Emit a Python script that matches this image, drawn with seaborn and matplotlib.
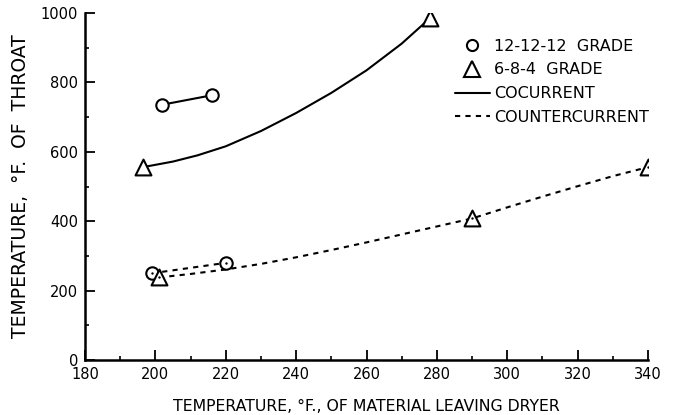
import seaborn as sns
import matplotlib.pyplot as plt
from matplotlib.lines import Line2D
from matplotlib.ticker import MultipleLocator
import pandas as pd

# values
co_circle_x = [202, 216]
co_circle_y = [736, 763]
cc_circle_x = [199, 220]
cc_circle_y = [250, 280]
co_tri_x = [196.5, 278]
co_tri_y = [556, 985]
cc_tri_x = [201, 290, 340]
cc_tri_y = [238, 408, 556]

# hand-drawn curves, traced point by point
co_curve_x = [196.5, 205, 212, 220, 230, 240, 250, 260, 270, 278]
co_curve_y = [556, 572, 590, 616, 660, 712, 770, 835, 912, 985]
cc_curve_x = [201, 210, 220, 230, 240, 250, 260, 270, 280, 290, 300, 310, 320, 330, 340]
cc_curve_y = [238, 248, 261, 277, 296, 317, 339, 362, 385, 408, 440, 471, 501, 530, 556]

x_ticks = [180, 200, 220, 240, 260, 280, 300, 320, 340]
y_ticks = [0, 200, 400, 600, 800, 1000]

sns.set_style("ticks")
plt.rcParams['font.family'] = ['DejaVu Sans']
plt.rcParams.update({"text.color": "black", "axes.labelcolor": "black",
                     "xtick.color": "black", "ytick.color": "black"})

fig = plt.figure(figsize=(6.8, 4.15), dpi=100)
ax = fig.add_axes([0.125, 0.1325, 0.828, 0.836])

dash = (0, (2.5, 2.5))
sns.lineplot(x=co_curve_x, y=co_curve_y, sort=False, color="black", lw=1.5, ax=ax)
sns.lineplot(x=co_circle_x, y=co_circle_y, sort=False, color="black", lw=1.5, ax=ax)
ax.plot(cc_curve_x, cc_curve_y, color="black", lw=1.5, ls=dash)
ax.plot(cc_circle_x, cc_circle_y, color="black", lw=1.5, ls=dash)

circles = pd.DataFrame({"x": co_circle_x + cc_circle_x, "y": co_circle_y + cc_circle_y})
tris = pd.DataFrame({"x": co_tri_x + cc_tri_x, "y": co_tri_y + cc_tri_y})
sns.scatterplot(data=circles, x="x", y="y", marker="o", s=80, facecolor="white",
                edgecolor="black", linewidth=1.5, ax=ax, zorder=3)
sns.scatterplot(data=tris, x="x", y="y", marker="^", s=130, facecolor="white",
                edgecolor="black", linewidth=1.5, ax=ax, zorder=3)
dots = pd.DataFrame({"x": cc_circle_x + cc_tri_x, "y": cc_circle_y + cc_tri_y})
sns.scatterplot(data=dots, x="x", y="y", marker="o", s=3, color="black",
                linewidth=0, ax=ax, zorder=4)

ax.set_xlim(180, 340)
ax.set_ylim(0, 1000)
ax.set_xticks(x_ticks)
ax.set_yticks(y_ticks)
ax.xaxis.set_minor_locator(MultipleLocator(10))
ax.yaxis.set_minor_locator(MultipleLocator(100))
ax.tick_params(which="major", direction="in", length=7, width=1.3, labelsize=10.5)
ax.tick_params(which="minor", direction="in", length=3, width=1.2)
ax.tick_params(axis="both", which="major", pad=5)
for s in ["top", "right"]:
    ax.spines[s].set_visible(False)
for s in ["left", "bottom"]:
    ax.spines[s].set_linewidth(1.8)
    ax.spines[s].set_color("black")

ax.set_xlabel("TEMPERATURE, °F., OF MATERIAL LEAVING DRYER", fontsize=11.3, labelpad=12)
ax.set_ylabel("TEMPERATURE,  °F.  OF  THROAT", fontsize=13.5, labelpad=8)

handles = [
    Line2D([], [], ls="none", marker="o", ms=8, mfc="white", mec="black", mew=1.5),
    Line2D([], [], ls="none", marker="^", ms=11, mfc="white", mec="black", mew=1.5),
    Line2D([], [], color="black", lw=1.5),
    Line2D([], [], color="black", lw=1.5, ls=dash),
]
labels = ["12-12-12  GRADE", "6-8-4  GRADE", "COCURRENT", "COUNTERCURRENT"]
ax.legend(handles, labels, loc="upper left", bbox_to_anchor=(0.645, 0.945),
          frameon=False, fontsize=11.5, handlelength=2.2, handletextpad=0.3,
          labelspacing=0.55, borderaxespad=0)

fig.savefig("out.png", dpi=100)
